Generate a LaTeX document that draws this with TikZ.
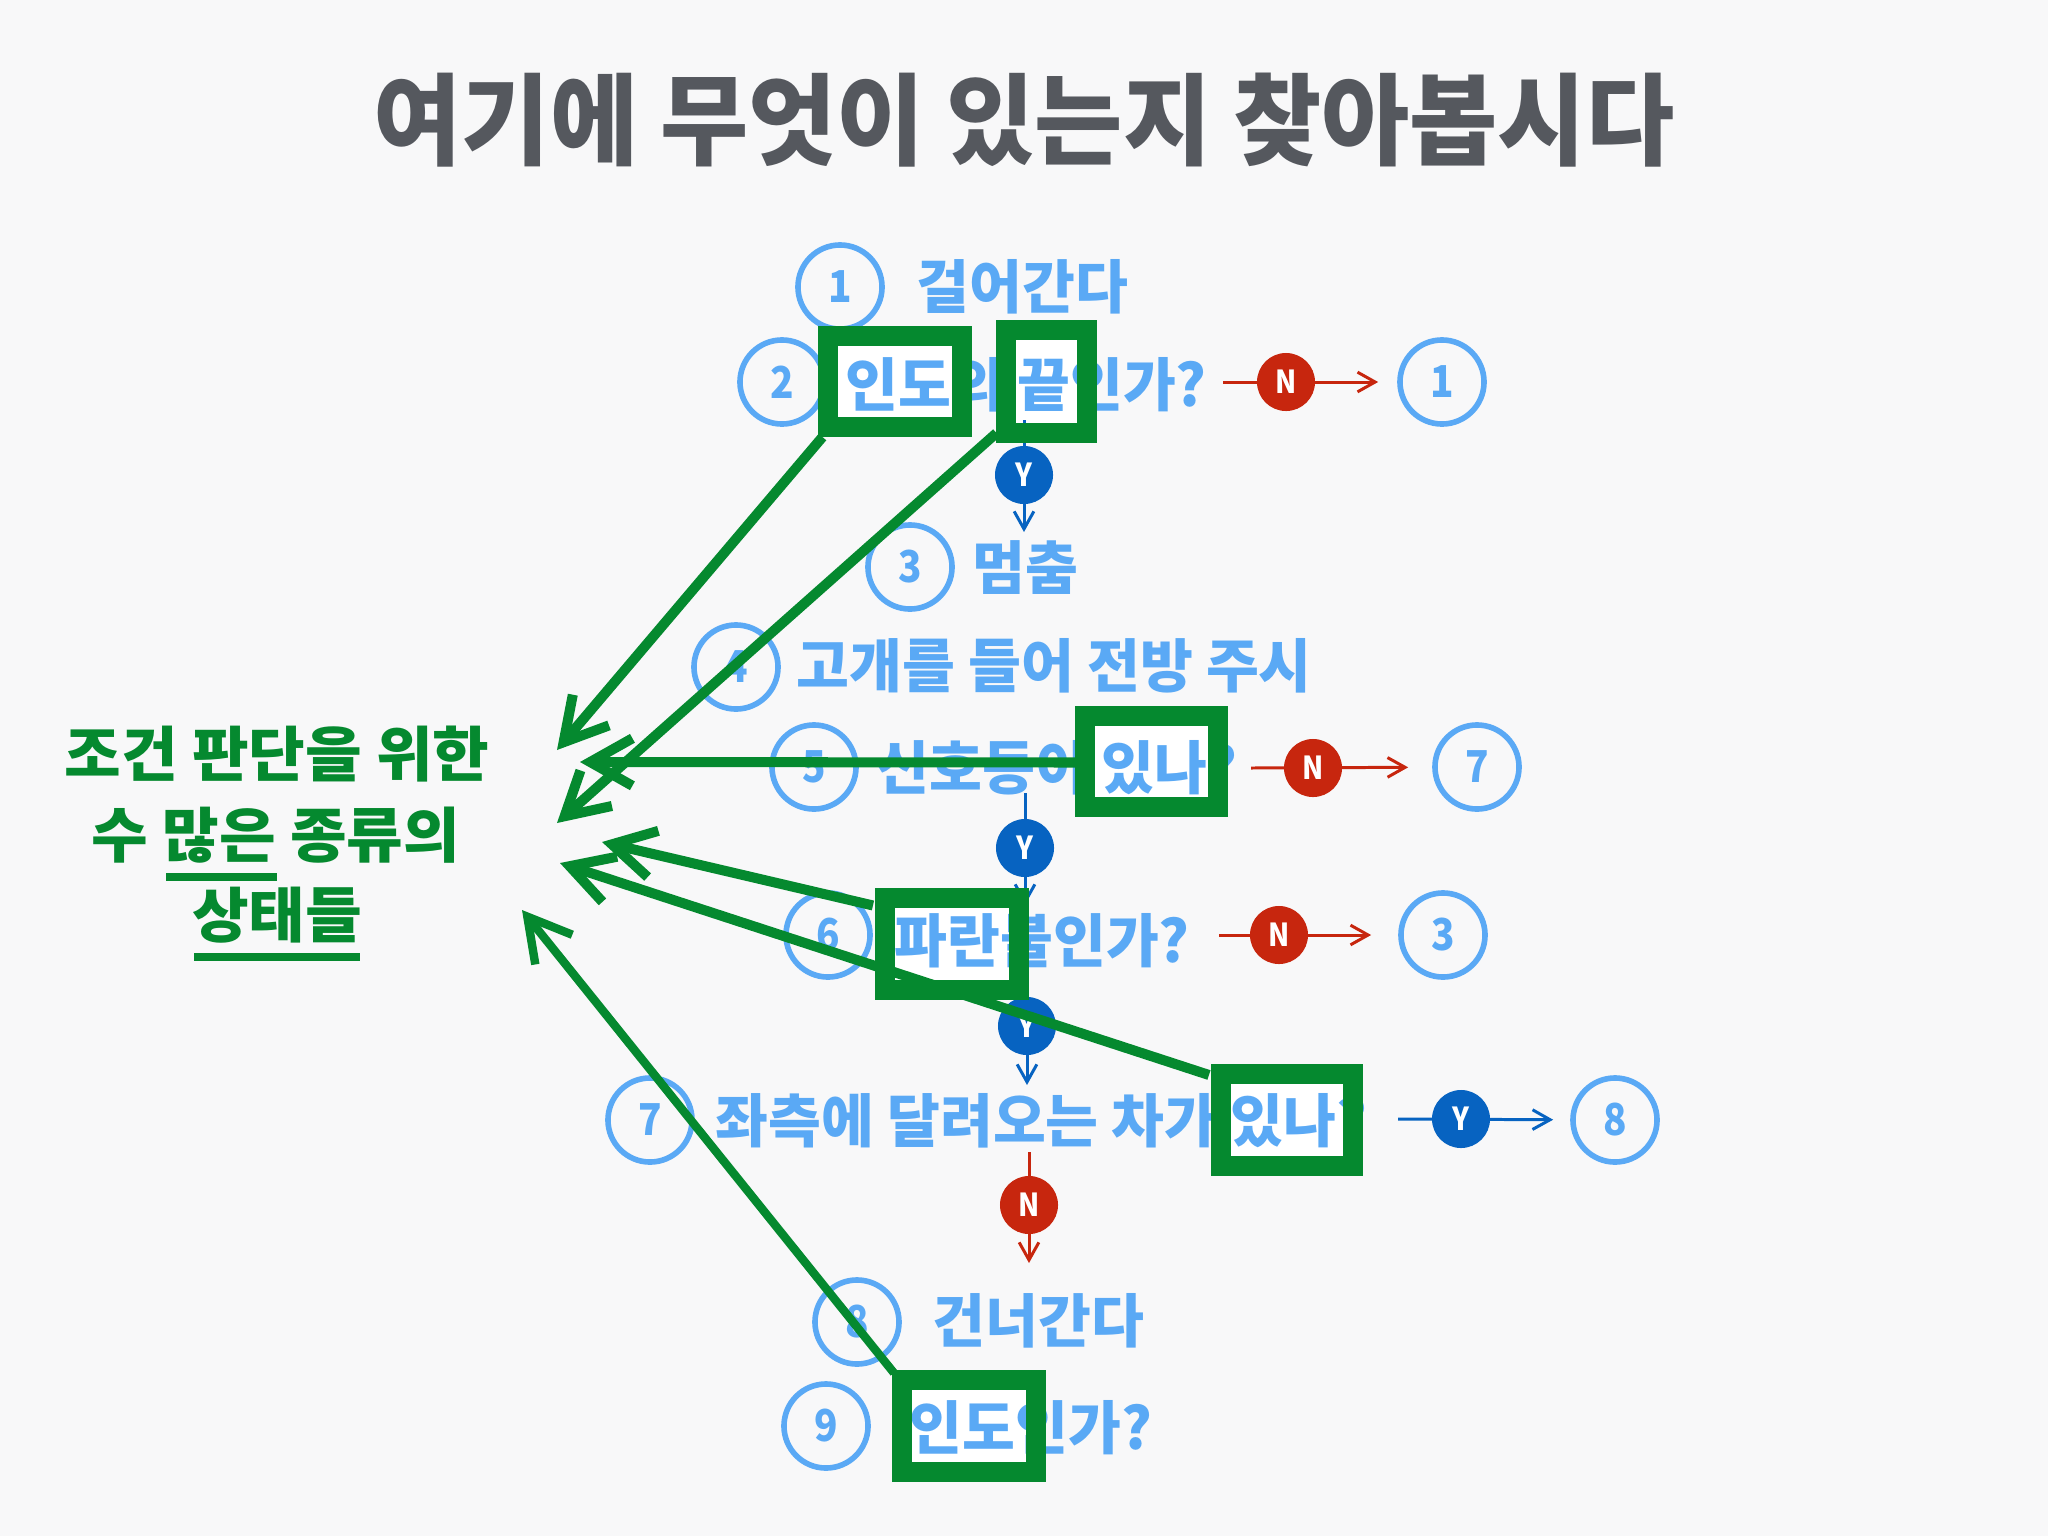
\documentclass[tikz,border=0pt]{standalone}
\usepackage{fontspec}
\newfontfamily\kr[FakeStretch=0.99]{Noto Sans CJK KR}
\newfontfamily\krn[FakeStretch=0.88]{Noto Sans CJK KR}
\newfontfamily\krt[FakeStretch=0.96]{Noto Sans CJK KR}
\newfontfamily\krg[FakeStretch=1.03]{Noto Sans CJK KR}
\usetikzlibrary{arrows.meta}
\definecolor{bgc}{HTML}{F8F8F9}
\definecolor{lb}{HTML}{5AA9F5}
\definecolor{nred}{HTML}{C7260E}
\definecolor{yblue}{HTML}{0763C1}
\definecolor{gr}{HTML}{05892F}
\definecolor{tgray}{HTML}{55585E}
\begin{document}
\begin{tikzpicture}[x=0.01cm,y=-0.01cm,
  num/.style={circle, draw=lb, line width=1.6pt, minimum size=0.84cm, inner sep=0pt, text=lb,
    font=\krn\bfseries\fontsize{12.5pt}{14pt}\selectfont},
  lbl/.style={anchor=west, inner sep=0pt, text=lb, text height=13.9pt, text depth=1.2pt,
    font=\kr\bfseries\fontsize{16.5pt}{20pt}\selectfont},
  ncirc/.style={circle, fill=nred, minimum size=0.58cm, inner sep=0pt, text=white,
    font=\krn\bfseries\fontsize{9pt}{10pt}\selectfont},
  ycirc/.style={ncirc, fill=yblue},
  nline/.style={draw=nred, line width=0.85pt, -{Straight Barb[length=5pt,width=5.6pt]}},
  yline/.style={nline, draw=yblue},
  gfill/.style={fill=white, draw=none, inner sep=0pt, outer sep=0pt},
  gborder/.style={draw=gr, line width=5.69pt},
  garrow/.style={draw=gr, line width=2.85pt, -{Straight Barb[length=12pt,width=13.5pt]}},
  gtext/.style={inner sep=0pt, text=gr, font=\krg\bfseries\fontsize{17pt}{20pt}\selectfont},
  ttl/.style={inner sep=0pt, text=tgray, font=\krt\bfseries\fontsize{28.4pt}{32pt}\selectfont}
]
\fill[bgc] (0,0) rectangle (2048,1536);
\useasboundingbox (0,0) rectangle (2048,1536);

% white interiors of the highlight boxes
\node[gfill, minimum width=1.33cm, minimum height=0.91cm] (bA) at (895,381.5) {};
\node[gfill, minimum width=0.80cm, minimum height=1.03cm] (bB) at (1046.5,381.5) {};
\node[gfill, minimum width=1.32cm, minimum height=0.91cm] (bC) at (1151.5,761.5) {};
\node[gfill, minimum width=1.34cm, minimum height=0.91cm] (bD) at (952,944) {};
\node[gfill, minimum width=1.32cm, minimum height=0.92cm] (bE) at (1287,1120) {};
\node[gfill, minimum width=1.34cm, minimum height=0.92cm] (bF) at (969,1426) {};

% title
\node[ttl] (title) at (1024,120) {여기에 무엇이 있는지 찾아봅시다};

% numbered steps
\node[num] (c1) at (840,287) {1};
\node[lbl] (t1) at (916,286) {걸어간다};
\node[num] (c2) at (782,382) {2};
\node[lbl] (t2) at (845,384) {인도의 끝인가?};
\node[num] (c2r) at (1442,382) {1};
\node[num] (c3) at (910,567) {3};
\node[lbl] (t3) at (972,567) {멈춤};
\node[num] (c4) at (736,667) {4};
\node[lbl] (t4) at (796,665) {고개를 들어 전방 주시};
\node[num] (c5) at (814,767) {5};
\node[lbl] (t5) at (876,767) {신호등이 있나?};
\node[num] (c5r) at (1477,767) {7};
\node[num] (c6) at (828,935) {6};
\node[lbl] (t6) at (894,940) {파란불인가?};
\node[num] (c6r) at (1443,935) {3};
\node[num] (c7) at (650,1120) {7};
\node[lbl] (t7) at (715,1120) {좌측에 달려오는 차가 있나?};
\node[num] (c7r) at (1615,1120) {8};
\node[num] (c8) at (857,1322) {8};
\node[lbl] (t8) at (932,1320) {건너간다};
\node[num] (c9) at (826,1426) {9};
\node[lbl] (t9) at (909,1427) {인도인가?};

% Y / N branches
\coordinate (n2s) at (1223,382);
\draw[nline, shorten >=0.19cm] (n2s) -- (c2r);
\node[ncirc] (n2) at (1286,382) {N};
\coordinate (y2s) at (1024,420);
\coordinate (y2e) at (1024,532);
\draw[yline] (y2s) -- (y2e);
\node[ycirc] (y2) at (1024,475) {Y};

\coordinate (n5s) at (1251,768);
\draw[nline, shorten >=0.24cm] (n5s) -- (c5r);
\node[ncirc] (n5) at (1313,768) {N};
\coordinate (y5s) at (1025,793);
\coordinate (y5e) at (1025,905);
\draw[yline] (y5s) -- (y5e);
\node[ycirc] (y5) at (1025,848) {Y};

\coordinate (n6s) at (1219,935);
\draw[nline, shorten >=0.27cm] (n6s) -- (c6r);
\node[ncirc] (n6) at (1279,935) {N};
\coordinate (y6s) at (1027,985);
\coordinate (y6e) at (1027,1085);
\draw[yline] (y6s) -- (y6e);
\node[ycirc] (y6) at (1027,1026) {Y};

\coordinate (y7s) at (1398,1119);
\draw[yline, shorten >=0.17cm] (y7s) -- (c7r);
\node[ycirc] (y7) at (1461,1119) {Y};
\coordinate (n7s) at (1029,1152);
\coordinate (n7e) at (1029,1263);
\draw[nline] (n7s) -- (n7e);
\node[ncirc] (n7) at (1029,1205) {N};

% green highlight borders
\foreach \b in {bA,bB,bC,bD,bE,bF}
  \draw[gborder] (\b.south west) rectangle (\b.north east);

% green text
\node[gtext] (g1) at (277,754) {조건 판단을 위한};
\node[gtext] (g2) at (276,835) {수 많은 종류의};
\node[gtext] (g3) at (277,915) {상태들};
\draw[draw=gr, line width=2pt] (166,877) -- (277,877);
\draw[draw=gr, line width=2pt] (194,957) -- (360,957);

% green arrows
\coordinate (a1) at (557,750);
\coordinate (a2) at (557,823);
\coordinate (a3) at (580,762);
\coordinate (a4) at (602,842);
\coordinate (a5) at (560,863);
\coordinate (a6) at (522,910);
\draw[garrow] ([shift={(-6,10)}]bA.south west) -- (a1);
\draw[garrow] ([shift={(-10,0)}]bB.south west) -- (a2);
\draw[garrow] ([shift={(-8,1)}]bC.west) -- (a3);
\draw[garrow] ([shift={(-12,7)}]bD.north west) -- (a4);
\draw[garrow] ([shift={(-12,1)}]bE.north west) -- (a5);
\draw[garrow, line width=2.4pt] ([shift={(-8,-7)}]bF.north west) -- (a6);
\end{tikzpicture}
\end{document}
